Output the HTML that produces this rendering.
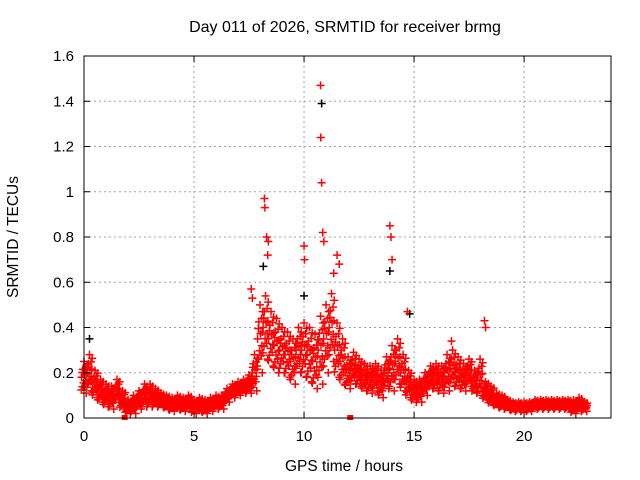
<!DOCTYPE html>
<html><head><meta charset="utf-8"><style>
body{margin:0;background:#fff}
svg{display:block;font-family:"Liberation Sans",sans-serif}
</style></head><body>
<svg id="chart" width="640" height="480">
<rect width="640" height="480" fill="#fff"/>
<text x="345" y="32" font-size="16" text-anchor="middle">Day 011 of 2026, SRMTID for receiver brmg</text>
<g id="grid"></g>
<g id="marks"></g>
<rect x="84" y="56" width="527" height="362" fill="none" stroke="#000" stroke-width="1"/>
<g id="axes"></g>
<text x="344" y="471" font-size="15.5" text-anchor="middle">GPS time / hours</text>
<text transform="translate(18,237) rotate(-90)" font-size="15.5" text-anchor="middle">SRMTID / TECUs</text>
</svg>
<script>
const xTicks=[0,5,10,15,20];
const yTicks=[0,0.2,0.4,0.6,0.8,1,1.2,1.4,1.6];
const yTickLabels=["0","0.2","0.4","0.6","0.8","1","1.2","1.4","1.6"];
const times=[0,0.25,0.5,0.75,1,1.25,1.5,1.75,2,2.25,2.5,2.75,3,3.25,3.5,3.75,4,4.25,4.5,4.75,5,5.25,5.5,5.75,6,6.25,6.5,6.75,7,7.25,7.5,7.75,8,8.25,8.5,8.75,9,9.25,9.5,9.75,10,10.25,10.5,10.75,11,11.25,11.5,11.75,12,12.25,12.5,12.75,13,13.25,13.5,13.75,14,14.25,14.5,14.75,15,15.25,15.5,15.75,16,16.25,16.5,16.75,17,17.25,17.5,17.75,18,18.25,18.5,18.75,19,19.25,19.5,19.75,20,20.25,20.5,20.75,21,21.25,21.5,21.75,22,22.25,22.5,22.75];
const srmtidMid=[0.18,0.2,0.15,0.12,0.1,0.09,0.12,0.08,0.05,0.06,0.08,0.1,0.1,0.09,0.08,0.07,0.06,0.07,0.06,0.07,0.05,0.06,0.05,0.06,0.07,0.07,0.1,0.12,0.13,0.14,0.15,0.2,0.35,0.4,0.35,0.32,0.3,0.28,0.25,0.3,0.3,0.28,0.25,0.3,0.35,0.4,0.3,0.25,0.2,0.22,0.2,0.18,0.17,0.18,0.15,0.2,0.22,0.25,0.2,0.15,0.12,0.12,0.15,0.18,0.18,0.17,0.2,0.22,0.2,0.18,0.2,0.16,0.18,0.12,0.1,0.08,0.07,0.06,0.05,0.05,0.05,0.05,0.06,0.06,0.06,0.06,0.06,0.06,0.06,0.05,0.06,0.05];
const srmtidSpread=[0.07,0.08,0.06,0.05,0.05,0.05,0.05,0.04,0.03,0.04,0.04,0.05,0.05,0.04,0.03,0.03,0.03,0.03,0.03,0.03,0.03,0.03,0.03,0.03,0.03,0.03,0.03,0.03,0.03,0.03,0.04,0.08,0.15,0.14,0.12,0.12,0.1,0.1,0.1,0.1,0.12,0.12,0.12,0.15,0.15,0.15,0.12,0.1,0.07,0.07,0.06,0.06,0.06,0.06,0.06,0.07,0.1,0.1,0.08,0.06,0.05,0.05,0.05,0.05,0.06,0.06,0.08,0.08,0.07,0.06,0.06,0.05,0.08,0.04,0.04,0.03,0.03,0.02,0.02,0.02,0.02,0.02,0.02,0.02,0.02,0.02,0.02,0.02,0.02,0.03,0.03,0.02];
const outlierTimes=[7.6,7.65,8.2,8.22,8.3,8.38,8.35,10.0,10.02,10.75,10.76,10.8,10.85,10.9,11.5,11.6,11.35,13.9,13.95,14.0,14.7,18.2,18.25,16.7];
const outlierValues=[0.57,0.53,0.97,0.93,0.8,0.78,0.72,0.76,0.7,1.47,1.24,1.04,0.82,0.78,0.72,0.68,0.64,0.85,0.8,0.7,0.47,0.43,0.4,0.34];
const blackTimes=[0.25,8.15,10.0,10.8,13.9,14.8];
const blackValues=[0.35,0.67,0.54,1.39,0.65,0.46];
const NS="http://www.w3.org/2000/svg";
const X0=84,X1=611,Y0=418,Y1=56,XMAX=23.95,YMAX=1.6;
const xs=t=>X0+(X1-X0)*t/XMAX;
const ys=v=>Y0-(Y0-Y1)*v/YMAX;
function mk(tag,attrs,parent){const e=document.createElementNS(NS,tag);for(const k in attrs)e.setAttribute(k,attrs[k]);parent.appendChild(e);return e;}
const grid=document.getElementById('grid'),axes=document.getElementById('axes'),marks=document.getElementById('marks');
xTicks.forEach(t=>{const x=xs(t);
 if(t>0){const g=mk('line',{x1:x,x2:x,y1:Y0,y2:Y1,stroke:'#a0a0a0','stroke-dasharray':'2,3'},grid);
 
 }
 mk('line',{x1:x,x2:x,y1:Y0,y2:Y0-6,stroke:'#000'},axes);mk('line',{x1:x,x2:x,y1:Y1,y2:Y1+6,stroke:'#000'},axes);
 const l=mk('text',{x:x,y:Y0+23,'font-size':15,'text-anchor':'middle'},axes);l.textContent=t;
 
 
});
yTicks.forEach((v,i)=>{const y=ys(v);
 if(v>0&&v<YMAX){const g=mk('line',{x1:X0,x2:X1,y1:y,y2:y,stroke:'#a0a0a0','stroke-dasharray':'2,3'},grid);
 
 }
 mk('line',{x1:X0,x2:X0+6,y1:y,y2:y,stroke:'#000'},axes);mk('line',{x1:X1,x2:X1-6,y1:y,y2:y,stroke:'#000'},axes);
 const l=mk('text',{x:X0-10,y:y+5,'font-size':15,'text-anchor':'end'},axes);l.textContent=yTickLabels[i];
 
 
});
function plus(t,v,color){const x=xs(t),y=ys(v);
 const p=mk('path',{d:`M${x-4},${y}h8M${x},${y-4}v8`,stroke:color,'stroke-width':1.5,fill:'none'},marks);
 
 }
const offs=[[-0.11,0],[0,1],[0.1,-1],[-0.05,0.5],[0.05,-0.5],[0.12,0.8],[-0.12,-0.8],[-0.08,0.3],[0.08,-0.2],[0.02,0.15],[-0.02,-0.35],[0.07,0.6],[-0.07,-0.6],[0.11,0.2]];
blackTimes.forEach((t,i)=>plus(t,blackValues[i],'#000'));
times.forEach((t,i)=>{offs.forEach(o=>{const v=Math.max(0.005,srmtidMid[i]+o[1]*srmtidSpread[i]);plus(t+o[0],v,'#f00');});});
outlierTimes.forEach((t,i)=>plus(t,outlierValues[i],'#f00'));
[1.85,12.1].forEach(t=>{const r=mk('rect',{x:xs(t)-3,y:Y0-3,width:6,height:5,fill:'#f00'},marks);
 
 });
</script>
</body></html>
